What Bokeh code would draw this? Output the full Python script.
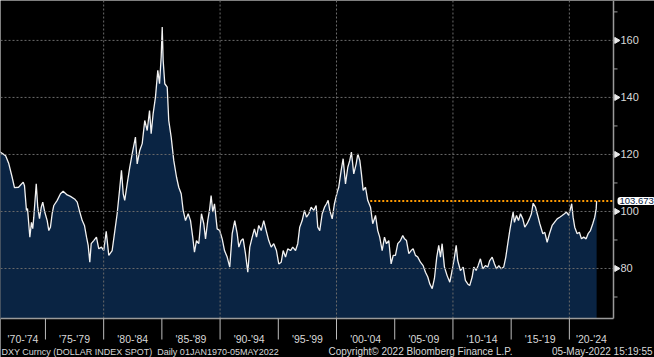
import math
from bokeh.plotting import figure
from bokeh.models import Label, Range1d
from bokeh.core.properties import value
from bokeh.embed import file_html
from bokeh.resources import INLINE

# ---- data (DXY Curncy) ----
years = [1970.00, 1971.14, 1971.57, 1971.85, 1972.14, 1972.34, 1972.69, 1973.09, 1973.20, 1973.37,
         1973.46, 1973.66, 1973.80, 1973.91, 1974.00, 1974.21, 1974.34, 1974.49, 1974.64, 1974.77,
         1974.94, 1975.15, 1975.29, 1975.43, 1975.58, 1975.72, 1976.01, 1976.29, 1976.52, 1976.87,
         1977.15, 1977.50, 1977.73, 1977.95, 1978.16, 1978.35, 1978.53, 1978.67, 1978.81, 1978.93,
         1979.15, 1979.38, 1979.58, 1979.81, 1980.01, 1980.22, 1980.44, 1980.73, 1980.93, 1981.16,
         1981.39, 1981.53, 1981.68, 1981.81, 1982.02, 1982.24, 1982.45, 1982.73, 1982.88, 1983.10,
         1983.31, 1983.53, 1983.74, 1983.94, 1984.08, 1984.25, 1984.45, 1984.65, 1984.80, 1984.94,
         1985.03, 1985.11, 1985.25, 1985.46, 1985.59, 1985.80, 1986.02, 1986.26, 1986.45, 1986.66,
         1986.83, 1987.03, 1987.26, 1987.46, 1987.65, 1987.80, 1987.97, 1988.17, 1988.40, 1988.60,
         1988.75, 1988.94, 1989.11, 1989.23, 1989.37, 1989.52, 1989.75, 1989.97, 1990.18, 1990.38,
         1990.61, 1990.83, 1991.04, 1991.26, 1991.47, 1991.61, 1991.81, 1991.98, 1992.18, 1992.38,
         1992.55, 1992.76, 1992.95, 1993.13, 1993.32, 1993.53, 1993.75, 1993.96, 1994.18, 1994.39,
         1994.61, 1994.84, 1995.04, 1995.25, 1995.42, 1995.62, 1995.81, 1996.05, 1996.24, 1996.48,
         1996.67, 1996.84, 1997.05, 1997.25, 1997.42, 1997.62, 1997.82, 1998.05, 1998.25, 1998.39,
         1998.56, 1998.77, 1998.97, 1999.14, 1999.28, 1999.42, 1999.63, 1999.82, 2000.06, 2000.19,
         2000.40, 2000.57, 2000.77, 2000.97, 2001.14, 2001.28, 2001.48, 2001.69, 2001.83, 2002.00,
         2002.14, 2002.29, 2002.49, 2002.68, 2002.92, 2003.11, 2003.35, 2003.54, 2003.71, 2003.92,
         2004.12, 2004.29, 2004.49, 2004.69, 2004.87, 2005.06, 2005.26, 2005.49, 2005.69, 2005.84,
         2006.01, 2006.21, 2006.41, 2006.58, 2006.78, 2006.98, 2007.21, 2007.44, 2007.64, 2007.84,
         2008.01, 2008.22, 2008.41, 2008.61, 2008.78, 2008.93, 2009.07, 2009.27, 2009.50, 2009.73,
         2009.93, 2010.13, 2010.28, 2010.41, 2010.64, 2010.88, 2011.07, 2011.27, 2011.44, 2011.65,
         2011.79, 2011.99, 2012.16, 2012.36, 2012.56, 2012.79, 2012.99, 2013.16, 2013.37, 2013.57,
         2013.74, 2013.94, 2014.14, 2014.36, 2014.54, 2014.71, 2014.88, 2015.03, 2015.17, 2015.28,
         2015.46, 2015.63, 2015.80, 2016.00, 2016.17, 2016.37, 2016.57, 2016.74, 2016.89, 2017.09,
         2017.28, 2017.46, 2017.72, 2017.89, 2018.09, 2018.29, 2018.52, 2018.72, 2018.95, 2019.17,
         2019.38, 2019.58, 2019.75, 2019.95, 2020.09, 2020.20, 2020.32, 2020.46, 2020.67, 2020.86,
         2021.04, 2021.23, 2021.44, 2021.61, 2021.81, 2022.01, 2022.18, 2022.30, 2022.34]
values = [121.0, 120.8, 119.6, 116.8, 112.0, 108.4, 108.5, 110.3, 109.0, 100.4,
          101.0, 91.0, 96.2, 94.0, 98.0, 109.7, 101.5, 97.5, 101.5, 103.3,
          99.8, 96.8, 93.3, 94.5, 99.3, 102.1, 103.9, 106.2, 107.1, 105.8,
          105.3, 104.4, 103.3, 99.8, 96.8, 95.1, 91.0, 88.1, 82.2, 88.7,
          89.8, 91.0, 86.9, 87.5, 86.3, 93.0, 84.6, 86.3, 92.3, 99.2,
          108.5, 114.4, 106.2, 103.9, 109.7, 115.5, 120.2, 126.1, 116.7, 121.4,
          123.8, 131.9, 128.4, 135.4, 127.3, 134.3, 140.1, 149.5, 144.8, 154.2,
          164.7, 153.0, 144.8, 143.6, 131.9, 126.1, 117.9, 112.0, 108.5, 106.2,
          100.4, 96.8, 99.2, 96.8, 91.0, 85.7, 89.8, 88.7, 99.2, 95.7,
          90.4, 96.8, 101.0, 105.6, 99.8, 102.7, 93.9, 93.3, 90.4, 86.3,
          84.0, 80.5, 92.2, 96.8, 92.2, 87.5, 89.8, 90.4, 85.2, 78.7,
          87.5, 91.0, 93.9, 91.0, 95.1, 93.3, 96.8, 93.3, 89.8, 87.5,
          88.7, 86.3, 81.6, 82.2, 86.3, 84.0, 86.9, 86.3, 87.5, 86.3,
          88.7, 94.5, 96.8, 100.4, 98.0, 99.2, 101.5, 100.4, 102.1, 94.5,
          93.3, 99.2, 101.5, 102.7, 103.9, 100.4, 97.4, 102.7, 106.8, 108.5,
          114.4, 118.5, 109.7, 115.5, 117.9, 120.8, 113.2, 116.7, 120.2, 117.9,
          113.2, 107.4, 108.5, 103.9, 101.5, 95.7, 98.6, 93.3, 91.0, 86.3,
          91.0, 88.7, 89.8, 81.6, 84.6, 84.6, 88.7, 89.8, 91.6, 90.4,
          89.8, 85.2, 86.3, 86.9, 84.6, 84.0, 82.2, 81.0, 78.7, 77.0,
          74.6, 72.9, 76.5, 84.0, 88.1, 84.0, 88.7, 80.5, 77.5, 75.2,
          79.3, 84.0, 88.1, 82.8, 79.3, 80.5, 75.8, 74.6, 74.0, 77.0,
          80.5, 79.3, 81.0, 83.4, 79.9, 81.0, 80.5, 82.8, 84.0, 81.6,
          79.9, 81.0, 79.9, 80.5, 84.0, 88.7, 93.3, 96.8, 99.8, 96.2,
          98.6, 96.8, 99.2, 97.4, 94.5, 95.7, 97.4, 99.2, 102.9, 101.5,
          98.6, 95.7, 92.2, 92.7, 89.2, 92.2, 95.1, 96.2, 97.4, 98.0,
          98.6, 99.2, 99.8, 98.6, 100.9, 102.7, 98.0, 94.5, 92.2, 92.7,
          90.4, 91.0, 90.4, 92.2, 93.3, 95.7, 98.0, 100.9, 103.673]
last_value = 103.673
last_label = "103.673"
ref_line_start = 2002.9

y_major = [80, 100, 120, 140, 160]
y_major_labels = ["80", "100", "120", "140", "160"]
y_minor = [70, 90, 110, 130, 150, 170]
x_grid_years = [1980, 1990, 2000, 2010, 2020]
period_bounds = [1970, 1975, 1980, 1985, 1990, 1995, 2000, 2005, 2010, 2015, 2020, 2025]
period_labels = ["'70-'74", "'75-'79", "'80-'84", "'85-'89", "'90-'94", "'95-'99",
                 "'00-'04", "'05-'09", "'10-'14", "'15-'19", "'20-'24"]
footer_left = "DXY Curncy (DOLLAR INDEX SPOT)\u00a0 Daily 01JAN1970-05MAY2022"
footer_mid = "Copyright\u00a9 2022 Bloomberg Finance L.P."
footer_right = "05-May-2022 15:19:55"

# ---- layout / style ----
W, H = 654, 357
PLOT_W, PLOT_H = 613, 318            # chart panel inside the canvas
X0, XA = 1971.14, 2023.79            # years at left edge / at the value axis
Y0, Y1 = 62.46, 174.0                # values at bottom / top of chart panel
sx = PLOT_W / (XA - X0)              # px per year
sy = PLOT_H / (Y1 - Y0)              # px per index point
FONT = "Liberation Sans"
TXT = "#d8d8d8"
GRID = "#6a6a6a"
AXIS = "#9a9a9a"
NAVY = "#0a2443"

def dx(px):
    return px / sx

def dy(px):
    return px / sy

p = figure(width=W, height=H,
           x_range=Range1d(X0, X0 + dx(W)), y_range=Range1d(Y0 - dy(H - PLOT_H), Y1),
           x_axis_location=None, y_axis_location=None,
           output_backend="svg", toolbar_location=None, min_border=0,
           background_fill_color="black", border_fill_color="black", outline_line_color=None)
p.grid.visible = False

# data
p.varea(x=years, y1=Y0, y2=values, fill_color=NAVY)
p.line(years, values, line_color="#f2f2f2", line_width=1.3)

# grid (dotted)
p.segment(x0=[X0] * len(y_major), y0=y_major, x1=[XA] * len(y_major), y1=y_major,
          line_color=GRID, line_dash="2 2", line_width=1)
p.segment(x0=x_grid_years, y0=[Y0] * len(x_grid_years), x1=x_grid_years,
          y1=[Y1] * len(x_grid_years), line_color=GRID, line_dash="2 2", line_width=1)

# last-value reference line
p.segment(x0=[ref_line_start], y0=[last_value], x1=[XA], y1=[last_value],
          line_color="#ff9a00", line_width=2, line_dash="2 2")

# value axis (right)
p.segment(x0=[XA], y0=[Y0], x1=[XA], y1=[Y1], line_color=AXIS, line_width=1.5)
p.segment(x0=[XA] * len(y_minor), y0=y_minor, x1=[XA + dx(4)] * len(y_minor), y1=y_minor,
          line_color=AXIS, line_width=1)
p.scatter(x=[XA + dx(3)] * len(y_major), y=y_major, marker="triangle", size=6,
          angle=-math.pi / 2, fill_color="#e8e8e8", line_color="#e8e8e8")
p.text(x=[XA + dx(7)] * len(y_major), y=y_major, text=y_major_labels,
       text_align="left", text_baseline="middle", text_color=TXT,
       text_font=value(FONT), text_font_size="11px")

# time axis (bottom)
p.segment(x0=[X0], y0=[Y0], x1=[XA], y1=[Y0], line_color=AXIS, line_width=1.5)
seps = period_bounds[1:-1]
p.segment(x0=seps, y0=[Y0] * len(seps), x1=seps, y1=[Y0 - dy(21)] * len(seps),
          line_color="#bcbcbc", line_width=1)
centers = [(max(period_bounds[i], X0) + min(period_bounds[i + 1], XA)) / 2
           for i in range(len(period_labels))]
p.text(x=centers, y=[Y0 - dy(20)] * len(centers), text=period_labels,
       text_align="center", text_baseline="middle", text_color=TXT,
       text_font=value(FONT), text_font_size="10.5px")

# footer
fy = Y0 - dy(33)
p.text(x=[X0 + dx(1)], y=[fy], text=[footer_left], text_align="left", text_baseline="middle",
       text_color=TXT, text_font=value(FONT), text_font_size="9px")
p.text(x=[X0 + dx(328)], y=[fy], text=[footer_mid], text_align="left", text_baseline="middle",
       text_color=TXT, text_font=value(FONT), text_font_size="10px")
p.text(x=[X0 + dx(652)], y=[fy], text=[footer_right], text_align="right", text_baseline="middle",
       text_color=TXT, text_font=value(FONT), text_font_size="10px")

# last value tag
p.add_layout(Label(x=XA + dx(4), y=last_value, text=last_label, text_align="left",
                   text_baseline="middle", text_color=NAVY, text_font=FONT,
                   text_font_size="9.5px", background_fill_color="white",
                   padding=(2, 1), border_radius=3))

open("out.html", "w").write(file_html(p, INLINE))
